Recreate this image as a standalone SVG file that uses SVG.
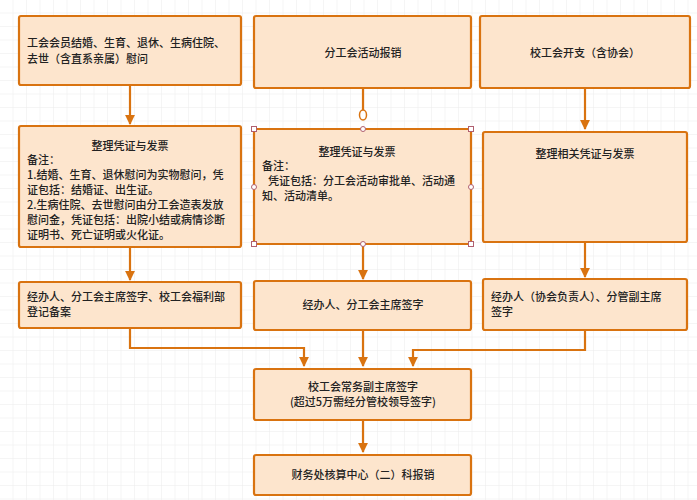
<svg xmlns="http://www.w3.org/2000/svg" width="697" height="500" viewBox="0 0 697 500">
<style>
.b{fill:#fde5cd;stroke:#d97310;stroke-width:2.2}
.t{font-family:"Noto Sans CJK SC","Noto Sans",sans-serif;font-size:11px;fill:#222;font-weight:500}
.c{text-anchor:middle}
.l{fill:none;stroke:#d97310;stroke-width:2.2}
.h{fill:#fff;stroke:#b06070;stroke-width:1}
</style>
<defs>
<pattern id="g" width="13.5" height="13.5" patternUnits="userSpaceOnUse"><path d="M13.5 0V13.5H0" fill="none" stroke="#ebebeb" stroke-width="1"/></pattern>
<marker id="a" viewBox="0 0 10 10" refX="9" refY="5" markerWidth="4.5" markerHeight="4.5" orient="auto"><path d="M0 0L10 5L0 10z" fill="#d97310"/></marker>
</defs>
<rect width="697" height="500" fill="#fff"/>
<rect width="697" height="500" fill="url(#g)"/>
<g id="connectors">
<path class="l" d="M130 85V124" marker-end="url(#a)"/>
<path class="l" d="M363 89V110"/>
<ellipse cx="363" cy="115" rx="3.5" ry="5" fill="#fff" stroke="#d97310" stroke-width="1.5"/>
<path class="l" d="M585 89V129" marker-end="url(#a)"/>
<path class="l" d="M130 247V280" marker-end="url(#a)"/>
<path class="l" d="M363 245V279" marker-end="url(#a)"/>
<path class="l" d="M585 243V277" marker-end="url(#a)"/>
<path class="l" d="M130 329V348H304V366" marker-end="url(#a)"/>
<path class="l" d="M363 331V366" marker-end="url(#a)"/>
<path class="l" d="M585 331V350H413V366" marker-end="url(#a)"/>
<path class="l" d="M363 421V452" marker-end="url(#a)"/>
</g>
<g id="n1"><rect class="b" x="19" y="16" width="222" height="69" rx="2"/>
<text class="t" x="27" y="47">工会会员结婚、生育、退休、生病住院、</text><text class="t" x="27" y="63">去世（含直系亲属）慰问</text></g>
<g id="n2"><rect class="b" x="254" y="16" width="217" height="72" rx="2"/>
<text class="t c" x="363" y="57">分工会活动报销</text></g>
<g id="n3"><rect class="b" x="480" y="16" width="210" height="72" rx="2"/>
<text class="t c" x="585" y="57">校工会开支（含协会）</text></g>
<g id="n4"><rect class="b" x="19" y="126" width="222" height="121" rx="2"/>
<text class="t c" x="130" y="150">整理凭证与发票</text>
<text class="t" x="27" y="164">备注：</text>
<text class="t" x="27" y="179">1.结婚、生育、退休慰问为实物慰问，凭</text>
<text class="t" x="27" y="194">证包括：结婚证、出生证。</text>
<text class="t" x="27" y="209">2.生病住院、去世慰问由分工会造表发放</text>
<text class="t" x="27" y="224">慰问金，凭证包括：出院小结或病情诊断</text>
<text class="t" x="27" y="239">证明书、死亡证明或火化证。</text></g>
<g id="n5"><rect class="b" x="254" y="129" width="217" height="115" rx="1"/>
<text class="t c" x="357" y="156">整理凭证与发票</text>
<text class="t" x="262" y="170">备注：</text>
<text class="t" x="268" y="185">凭证包括：分工会活动审批单、活动通</text>
<text class="t" x="262" y="200">知、活动清单。</text>
<rect class="h" x="251.5" y="126.5" width="5" height="5"/><rect class="h" x="468.5" y="126.5" width="5" height="5"/>
<rect class="h" x="251.5" y="241.5" width="5" height="5"/><rect class="h" x="468.5" y="241.5" width="5" height="5"/>
<circle class="h" cx="363" cy="129" r="2.5"/><circle class="h" cx="363" cy="244" r="2.5"/>
<circle class="h" cx="254" cy="187" r="2.5"/><circle class="h" cx="471" cy="187" r="2.5"/></g>
<g id="n6"><rect class="b" x="483" y="132" width="204" height="110" rx="2"/>
<text class="t c" x="585" y="158">整理相关凭证与发票</text></g>
<g id="n7"><rect class="b" x="19" y="282" width="222" height="46" rx="2"/>
<text class="t" x="27" y="301">经办人、分工会主席签字、校工会福利部</text><text class="t" x="27" y="316">登记备案</text></g>
<g id="n8"><rect class="b" x="254" y="281" width="217" height="49" rx="2"/>
<text class="t c" x="363" y="309">经办人、分工会主席签字</text></g>
<g id="n9"><rect class="b" x="483" y="279" width="204" height="51" rx="2"/>
<text class="t" x="491" y="301">经办人（协会负责人）、分管副主席</text><text class="t" x="491" y="316">签字</text></g>
<g id="n10"><rect class="b" x="254" y="369" width="217" height="51" rx="2"/>
<text class="t c" x="363" y="391">校工会常务副主席签字</text><text class="t c" x="363" y="406">(超过5万需经分管校领导签字)</text></g>
<g id="n11"><rect class="b" x="254" y="455" width="217" height="40" rx="2"/>
<text class="t c" x="363" y="479">财务处核算中心（二）科报销</text></g>
</svg>
